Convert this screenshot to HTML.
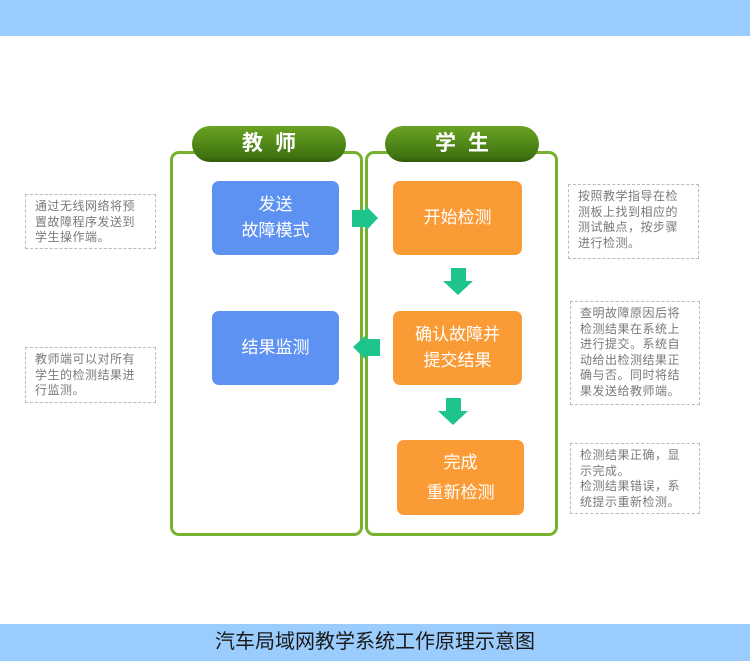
<!DOCTYPE html>
<html><head><meta charset="utf-8"><style>
*{margin:0;padding:0;box-sizing:border-box}
body{width:750px;height:661px;background:#fff;position:relative;overflow:hidden;font-family:"Liberation Sans","Noto Sans CJK SC",sans-serif}
.a{position:absolute}
.panel{position:absolute;border:3px solid #76b22e;border-radius:9px}
.pill{position:absolute;height:36px;border-radius:18px;background:linear-gradient(#6aa324,#3f7410 85%,#2f5a08);color:#fff;font-size:21px;font-weight:bold;text-align:center;line-height:36px;letter-spacing:12px;text-indent:12px}
.box{position:absolute;border-radius:7px;color:#fff;font-size:17px;display:flex;align-items:center;justify-content:center;text-align:center;line-height:26px}
.b{background:#5e92f2}.o{background:#fb9b36}
.note{position:absolute;border:1px dashed #bbb;font-size:12px;letter-spacing:0.5px;color:#7a7a7a;line-height:15.5px;padding:4px 0 0 9px;white-space:nowrap}
</style></head><body>
<div class="a" style="left:0;top:0;width:750px;height:36px;background:#9accfd"></div>
<div class="a" style="left:0;top:624px;width:750px;height:37px;background:#9accfd;text-align:center;line-height:37px;font-size:20px;color:#1a1a1a">汽车局域网教学系统工作原理示意图</div>

<div class="panel" style="left:170px;top:151px;width:193px;height:385px"></div>
<div class="panel" style="left:365px;top:151px;width:193px;height:385px"></div>
<div class="pill" style="left:192px;top:126px;width:154px">教师</div>
<div class="pill" style="left:385px;top:126px;width:154px">学生</div>

<div class="box b" style="left:212px;top:181px;width:127px;height:74px">发送<br>故障模式</div>
<div class="box b" style="left:212px;top:311px;width:127px;height:74px">结果监测</div>
<div class="box o" style="left:393px;top:181px;width:129px;height:74px">开始检测</div>
<div class="box o" style="left:393px;top:311px;width:129px;height:74px">确认故障并<br>提交结果</div>
<div class="box o" style="left:397px;top:440px;width:127px;height:75px;line-height:30px">完成<br>重新检测</div>

<svg class="a" style="left:0;top:0" width="750" height="661">
<polygon fill="#1dc48b" points="352,210 366,210 366,206 378,218 366,231 366,227 352,227"/>
<polygon fill="#1dc48b" points="380,339 366,339 366,335 353,347 366,360 366,356 380,356"/>
<polygon fill="#1dc48b" points="451,268 466,268 466,281 473,281 458,295 443,281 451,281"/>
<polygon fill="#1dc48b" points="446,398 461,398 461,411 468,411 453,425 438,411 446,411"/>
</svg>

<div class="note" style="left:25px;top:194px;width:131px;height:55px">通过无线网络将预<br>置故障程序发送到<br>学生操作端。</div>
<div class="note" style="left:25px;top:347px;width:131px;height:56px">教师端可以对所有<br>学生的检测结果进<br>行监测。</div>
<div class="note" style="left:568px;top:184px;width:131px;height:75px">按照教学指导在检<br>测板上找到相应的<br>测试触点，按步骤<br>进行检测。</div>
<div class="note" style="left:570px;top:301px;width:130px;height:104px">查明故障原因后将<br>检测结果在系统上<br>进行提交。系统自<br>动给出检测结果正<br>确与否。同时将结<br>果发送给教师端。</div>
<div class="note" style="left:570px;top:443px;width:130px;height:71px">检测结果正确，显<br>示完成。<br>检测结果错误，系<br>统提示重新检测。</div>
</body></html>
